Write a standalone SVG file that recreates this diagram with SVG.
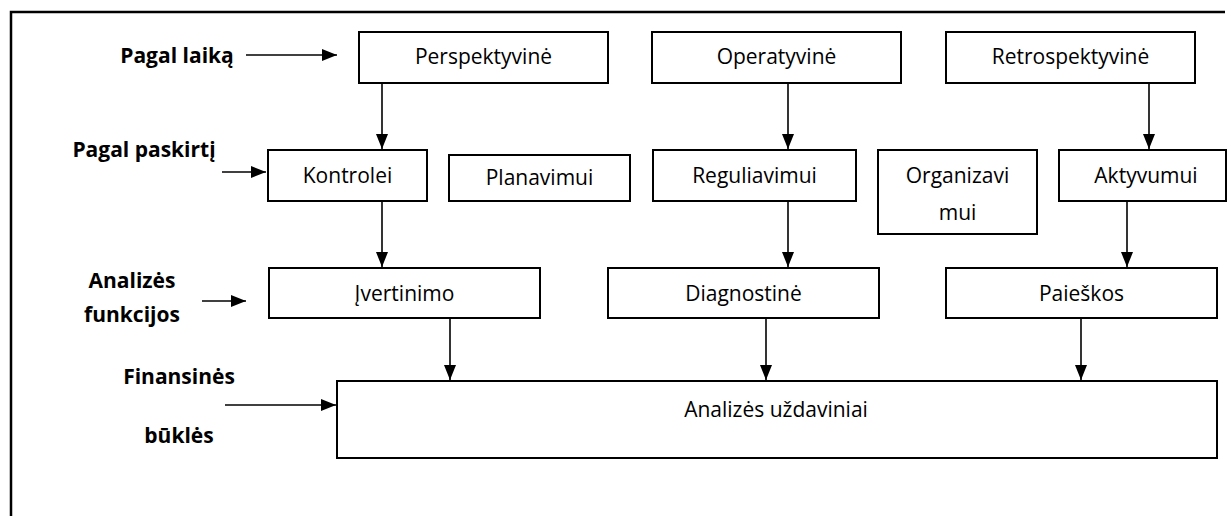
<svg xmlns="http://www.w3.org/2000/svg" width="1228" height="516" viewBox="0 0 1228 516">
<style>
.box{fill:#fff;stroke:#000;stroke-width:2}
.t{font-family:"Open Sans","Liberation Sans",sans-serif;font-size:21px;fill:#000;text-anchor:middle}
.b{font-family:"Open Sans","Liberation Sans",sans-serif;font-size:21px;font-weight:bold;fill:#000;text-anchor:middle}
.c{fill:none;stroke:#000;stroke-width:1.6;marker-end:url(#ah)}
</style>
<defs>
<marker id="ah" markerUnits="userSpaceOnUse" markerWidth="15" markerHeight="12" refX="15" refY="6" orient="auto">
<path d="M0,0 L15,6 L0,12 z" fill="#000"/>
</marker>
</defs>
<rect width="1228" height="516" fill="#fff"/>
<path d="M11,520 V12 H1225" fill="none" stroke="#000" stroke-width="2.5"/>

<g id="labels">
<text class="b" x="177" y="63">Pagal laiką</text>
<text class="b" x="144" y="157">Pagal paskirtį</text>
<text class="b" x="132" y="288">Analizės</text>
<text class="b" x="132" y="322">funkcijos</text>
<text class="b" x="179" y="384">Finansinės</text>
<text class="b" x="179" y="443">būklės</text>
</g>

<g id="n-perspektyvine"><rect class="box" x="359" y="32" width="249" height="51"/><text class="t" x="483.5" y="64">Perspektyvinė</text></g>
<g id="n-operatyvine"><rect class="box" x="652" y="32" width="249" height="51"/><text class="t" x="776.5" y="64">Operatyvinė</text></g>
<g id="n-retrospektyvine"><rect class="box" x="946" y="32" width="249" height="51"/><text class="t" x="1070.5" y="64">Retrospektyvinė</text></g>

<g id="n-kontrolei"><rect class="box" x="268" y="150" width="159" height="51"/><text class="t" x="347.5" y="183">Kontrolei</text></g>
<g id="n-planavimui"><rect class="box" x="449" y="155" width="181" height="46"/><text class="t" x="539.5" y="185">Planavimui</text></g>
<g id="n-reguliavimui"><rect class="box" x="653" y="150" width="203" height="51"/><text class="t" x="754.5" y="183">Reguliavimui</text></g>
<g id="n-organizavimui"><rect class="box" x="878" y="150" width="159" height="84"/><text class="t" x="957.5" y="183">Organizavi</text><text class="t" x="957.5" y="220">mui</text></g>
<g id="n-aktyvumui"><rect class="box" x="1059" y="150" width="167" height="51"/><text class="t" x="1146" y="183">Aktyvumui</text></g>

<g id="n-ivertinimo"><rect class="box" x="269" y="268" width="271" height="50"/><text class="t" x="404.5" y="301">Įvertinimo</text></g>
<g id="n-diagnostine"><rect class="box" x="608" y="268" width="271" height="50"/><text class="t" x="743.5" y="301">Diagnostinė</text></g>
<g id="n-paieskos"><rect class="box" x="946" y="268" width="271" height="50"/><text class="t" x="1081.5" y="301">Paieškos</text></g>

<g id="n-uzdaviniai"><rect class="box" x="337" y="381" width="880" height="77"/><text class="t" x="776" y="417">Analizės uždaviniai</text></g>

<g id="connectors">
<line class="c" x1="246" y1="55" x2="337" y2="55"/>
<line class="c" x1="222" y1="172" x2="266" y2="172"/>
<line class="c" x1="202" y1="301" x2="246" y2="301"/>
<line class="c" x1="225" y1="405" x2="336" y2="405"/>
<line class="c" x1="382" y1="83" x2="382" y2="149"/>
<line class="c" x1="788" y1="83" x2="788" y2="149"/>
<line class="c" x1="1149" y1="83" x2="1149" y2="149"/>
<line class="c" x1="382" y1="201" x2="382" y2="267"/>
<line class="c" x1="788" y1="201" x2="788" y2="267"/>
<line class="c" x1="1127" y1="201" x2="1127" y2="267"/>
<line class="c" x1="450" y1="318" x2="450" y2="380"/>
<line class="c" x1="766" y1="318" x2="766" y2="380"/>
<line class="c" x1="1081" y1="318" x2="1081" y2="380"/>
</g>
</svg>
